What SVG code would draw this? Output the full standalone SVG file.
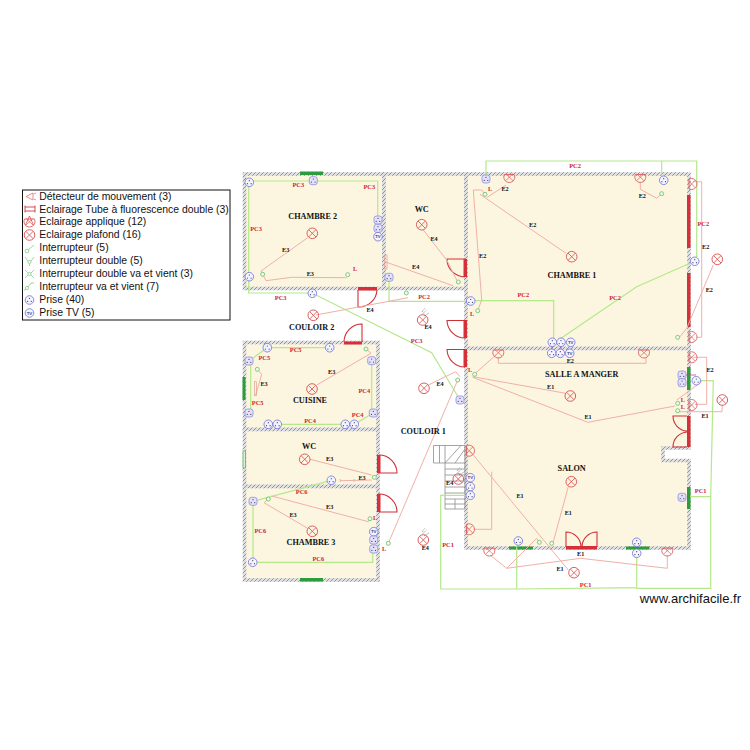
<svg xmlns="http://www.w3.org/2000/svg" width="750" height="750" viewBox="0 0 750 750">
<style>
.room{fill:#fcf6e1;stroke:url(#hatch);stroke-width:3.6}
.rn{font:bold 8.2px "Liberation Serif",serif;fill:#111;text-anchor:middle}
.pc{font:bold 6.4px "Liberation Serif",serif;fill:#d01c30;text-anchor:middle}
.e{font:bold 6.2px "Liberation Serif",serif;fill:#111;text-anchor:middle}
.l{font:bold 6.2px "Liberation Serif",serif;fill:#d01c30;text-anchor:middle}
.g{fill:none;stroke:#b4e88a;stroke-width:1.2}
.r{fill:none;stroke:#f0b0a6;stroke-width:1}
.door{fill:none;stroke:#cf3038;stroke-width:1.1}
.bar{fill:#d5303a}
.win{fill:#2e9b3c}
.leg{font:10.4px "Liberation Sans",Arial,sans-serif;fill:#111}
.st{fill:none;stroke:#8d8d8d;stroke-width:.8}
</style>
<defs>
<pattern id="hatch" width="4" height="4" patternUnits="userSpaceOnUse">
<rect width="4" height="4" fill="#e0e0e0"/>
<path d="M0 4L4 0" stroke="#8a8a8a" stroke-width=".9"/>
</pattern>
<g id="p"><circle r="4.3" fill="#f4f4ff" stroke="#6f6fdc" stroke-width=".8"/><circle cy="-1.6" r=".6" fill="#446"/><circle cx="-1.8" cy="1.4" r=".6" fill="#446"/><circle cx="1.8" cy="1.4" r=".6" fill="#446"/></g>
<g id="ps"><rect x="-4" y="-4" width="8" height="8" rx="2.500" fill="#e4e2fa" stroke="#8c8ce0" stroke-width=".8"/><circle cy="-1.6" r=".6" fill="#446"/><circle cx="-1.8" cy="1.4" r=".6" fill="#446"/><circle cx="1.8" cy="1.4" r=".6" fill="#446"/></g>
<g id="tv"><circle r="4.3" fill="#f4f4ff" stroke="#6f6fdc" stroke-width=".8"/><text y="1.7" text-anchor="middle" style="font:bold 4.4px 'Liberation Sans',sans-serif;fill:#447">TV</text></g>
<g id="lamp"><circle r="5.3" fill="none" stroke="#dc5f5f" stroke-width="1"/><path d="M-3.7-3.7L3.7 3.7M-3.7 3.7L3.7-3.7" stroke="#dc5f5f" stroke-width=".9"/></g>
<g id="app"><path d="M-4.9 0A5.5 5.5 0 1 0 4.9 0Z" fill="none" stroke="#dc5f5f" stroke-width=".9"/><path d="M-3.6-.6L3.8 6.2M3.6-.6L-3.8 6.2" stroke="#dc5f5f" stroke-width=".7"/></g>
<g id="s"><circle r="2" fill="#f4fbe8" stroke="#7fc87f" stroke-width="1"/></g>
<g id="det"><path d="M-1.5 1L2.5-3M0 3L5 0M-2-1L1-5" stroke="#555" stroke-width=".6" stroke-dasharray="1 .7" fill="none"/></g>
</defs>
<rect width="750" height="750" fill="#fff"/>
<g id="legend">
<rect x="22.500" y="190" width="207.500" height="130" fill="#fff" stroke="#111" stroke-width="1"/>
<path d="M33 193L26 196.500L33 200ZM34 194L36 193M34 199L36 200" fill="none" stroke="#e07070" stroke-width=".8"/>
<path d="M25 207H35M25 211H35M25 205.500V212.500M35 205.500V212.500" fill="none" stroke="#d0383c" stroke-width=".9"/>
<use href="#app" x="29.500" y="219"/>
<path d="M25.500 225L29.500 216L33.500 225" fill="none" stroke="#d0383c" stroke-width=".7"/>
<use href="#lamp" x="29.500" y="235"/>
<circle cx="27" cy="251" r="1.900" fill="none" stroke="#86cc86" stroke-width=".8"/><path d="M28 250L34 245" stroke="#86cc86" stroke-width=".8"/>
<circle cx="29.500" cy="262" r="1.600" fill="none" stroke="#86cc86" stroke-width=".8"/><path d="M28 261L25 257M31 261L34 257M29.500 264V266" stroke="#86cc86" stroke-width=".8"/>
<circle cx="29.500" cy="274" r="1.600" fill="none" stroke="#86cc86" stroke-width=".8"/><path d="M28 273L25 270M31 273L34 270M28 275L25 278M31 275L34 278" stroke="#86cc86" stroke-width=".8"/>
<circle cx="27" cy="288" r="1.600" fill="none" stroke="#86cc86" stroke-width=".8"/><path d="M28 287L31 283H34M26 289.500L24 290" fill="none" stroke="#86cc86" stroke-width=".8"/>
<use href="#p" x="29.500" y="300"/>
<use href="#tv" x="29.500" y="313"/>
<text class="leg" x="39.300" y="199.500">Détecteur de mouvement (3)</text>
<text class="leg" x="39.300" y="212.500">Eclairage Tube à fluorescence double (3)</text>
<text class="leg" x="39.300" y="225">Eclairage applique (12)</text>
<text class="leg" x="39.300" y="238">Eclairage plafond (16)</text>
<text class="leg" x="39.300" y="251">Interrupteur (5)</text>
<text class="leg" x="39.300" y="264">Interrupteur double (5)</text>
<text class="leg" x="39.300" y="277">Interrupteur double va et vient (3)</text>
<text class="leg" x="39.300" y="290">Interrupteur va et vient (7)</text>
<text class="leg" x="39.300" y="303">Prise (40)</text>
<text class="leg" x="39.300" y="316">Prise TV (5)</text>
</g>
<g id="rooms">
<g id="chambre-2"><rect class="room" x="244.500" y="174" width="139.500" height="114.500"/></g>
<g id="wc-1"><rect class="room" x="384" y="174" width="82" height="114.500"/></g>
<g id="chambre-1"><rect class="room" x="466" y="174" width="223" height="174.500"/></g>
<g id="salon"><path class="room" d="M466 348.500H689V448H663V460.500H689V548H466Z"/><path d="M689 449.900V458.600" stroke="#fff" stroke-width="5"/></g>
<g id="cuisine"><rect class="room" x="244.500" y="342.500" width="133.500" height="87"/></g>
<g id="wc-2"><rect class="room" x="244.500" y="429.500" width="133.500" height="57"/></g>
<g id="chambre-3"><rect class="room" x="244.500" y="486.500" width="133.500" height="93.500"/></g>
</g>
<g id="openings">
<rect class="win" x="300" y="171.500" width="23" height="3.500"/>
<rect class="win" x="300" y="578" width="23" height="3.500"/>
<rect class="win" x="242.500" y="377" width="3" height="23"/>
<rect x="243" y="451" width="2.500" height="17" fill="#d8f0d0" stroke="#4caf50" stroke-width=".7"/>
<rect class="bar" x="687" y="195" width="3.500" height="53"/>
<rect class="bar" x="687" y="273" width="3.500" height="54"/>
<rect class="win" x="687" y="367" width="3.500" height="23"/>
<rect class="win" x="687" y="487" width="3.500" height="22"/>
<rect class="win" x="509" y="546.500" width="24" height="3"/>
<rect class="win" x="626" y="546.500" width="23.500" height="3"/>
<rect class="bar" x="358" y="287" width="19" height="3.500"/><path class="door" d="M358 290V307A18 18 0 0 0 377 290"/>
<rect class="bar" x="463.500" y="259" width="3.500" height="18"/><path class="door" d="M465 259H447A18 18 0 0 0 465 277"/>
<rect class="bar" x="344" y="341.500" width="18" height="3"/><path class="door" d="M362 342V324A18 18 0 0 0 344 342"/>
<rect class="bar" x="463.500" y="320" width="3.500" height="18"/><path class="door" d="M465 320.500H447A18 18 0 0 0 465 338"/>
<rect class="bar" x="463.500" y="349" width="3.500" height="18"/><path class="door" d="M465 349.500H447A18 18 0 0 0 465 367"/>
<rect class="bar" x="377" y="455" width="3.500" height="18"/><path class="door" d="M379 473H397A18 18 0 0 0 379 455"/>
<rect class="bar" x="377" y="494" width="3.500" height="18"/><path class="door" d="M379 512H397A18 18 0 0 0 379 494"/>
<rect class="bar" x="687" y="416" width="3.500" height="31"/>
<path class="door" d="M687 416H673A15 15 0 0 0 687 431M687 447H673A15 15 0 0 1 687 432"/>
<rect class="bar" x="566" y="546" width="31" height="3.500"/>
<path class="door" d="M566 547V532A15 15 0 0 1 581 547M597 547V532A15 15 0 0 0 582 547"/>
</g>
<g id="stairs">
<path class="st" d="M433.500 445.500H465V509H445V463H433.500ZM439.500 445.500V463M445 445.500V463M445 463L461 445.500M445 463H465M445 469H465M445 475H465M445 481H465M445 487H465M445 493H465M445 499H465M445 504H465M455 463L465 449M455 499V509"/>
</g>
<g id="connectors">
<path class="g" d="M249.300 181H377.700V220M248.700 182V293H312L431.700 352.700L460 400"/>
<path class="g" d="M389 277V301.300H470.700M470.700 300.700H553.700V342M561 338.300L636.700 286.700L690 263.300M486 175V161H696.700V257M661.700 161V176"/>
<path class="g" d="M249 361L267.300 347.700H329.700M250.700 361V413"/>
<path class="g" d="M268 424.300H354.300L373.300 413M371.700 361V413"/>
<path class="g" d="M331.300 480.300L253 501.300V562.300H372.700V549"/>
<path class="g" d="M470 495.300H440.700V589H516.700V546M516.700 589L636.700 587.700V553M636.700 588.300H710.700V496.700H690M710.700 496.700L713.300 380.700H696.300"/>
<path class="r" d="M307.700 237.700L261 271L266 280.700L291.700 277.300L346.700 277.700"/>
<path class="r" d="M423.300 230L446.700 260L456.700 280M385.700 262L453 285.700M316 315L408 297.700"/>
<path class="r" d="M316.700 385L371 353.300L366 349M255.700 395L261.700 374.300L257.300 369.300M310 459.300L371.700 475M340.300 480.700L371.700 480M340.300 479V482M354 479V482"/>
<path class="r" d="M271.700 496L368.300 521.700L370 518.700M264 502.700L307.700 528.300M264 502.700L268.300 499"/>
<path class="r" d="M428.300 385L455.700 371.700L460 376.700M457.700 380L388.300 543.300"/>
<path class="r" d="M480 194.300L566 253.300M486.700 197.700L506 185M473.300 190H481.700L485 194.300M473.300 190L481.700 300L477.700 310.700M640.300 181.700V189.300L656.700 198.300L661.700 193.700"/>
<path class="r" d="M693.300 181.700H701.700V337.300H696.700M713.300 265L686.700 328.300L680 336.700"/>
<path class="r" d="M498.300 357V363.300H646V357M496 355L473.300 375M693.300 357.300H706.700V404.300H695"/>
<path class="r" d="M472.700 376.700L565.700 393.300M472.700 377.300L588 422.300L675 406M676.700 400L701.700 381.700M680 411.700H722L722.300 405"/>
<path class="r" d="M470 451L568.300 570M491.700 471.700V529.300H473.300M568.300 486.700L553.300 541.700"/>
<path class="r" d="M490 555L506.700 568.300L536.700 538.300L539.300 542.300M506.700 568.300L580.700 558.300L667.300 568.300V555"/>
<path d="M552 342V353M561 342V353M378 220V232M470.300 482V495M682 375H696" fill="none" stroke="#c43fa0" stroke-width=".8"/>
<g>
<text class="pc" x="298.300" y="186.500">PC3</text><text class="pc" x="369.300" y="189">PC3</text><text class="pc" x="256" y="230.500">PC3</text><text class="pc" x="280.700" y="300">PC3</text><text class="pc" x="416.700" y="343">PC3</text>
<text class="pc" x="424" y="299.300">PC2</text><text class="pc" x="575" y="168">PC2</text><text class="pc" x="703.300" y="226">PC2</text><text class="pc" x="523.300" y="297">PC2</text><text class="pc" x="615" y="300">PC2</text>
<text class="pc" x="295.700" y="352">PC5</text><text class="pc" x="264.300" y="360">PC5</text><text class="pc" x="257.700" y="405">PC5</text>
<text class="pc" x="364.300" y="393">PC4</text><text class="pc" x="357.700" y="417">PC4</text><text class="pc" x="310" y="423.300">PC4</text>
<text class="pc" x="301.700" y="494">PC6</text><text class="pc" x="260.300" y="533">PC6</text><text class="pc" x="318.300" y="561">PC6</text>
<text class="pc" x="448" y="547.300">PC1</text><text class="pc" x="700.700" y="493.300">PC1</text><text class="pc" x="585.700" y="587.300">PC1</text>
<text class="e" x="285.700" y="252.300">E3</text><text class="e" x="310.300" y="276">E3</text><text class="e" x="331.700" y="374">E3</text><text class="e" x="264" y="386">E3</text><text class="e" x="329.700" y="461.300">E3</text><text class="e" x="362" y="480">E3</text><text class="e" x="329.700" y="509">E3</text><text class="e" x="293" y="517">E3</text>
<text class="e" x="434" y="241">E4</text><text class="e" x="415.700" y="269">E4</text><text class="e" x="370" y="312.300">E4</text><text class="e" x="428" y="329">E4</text><text class="e" x="440" y="386">E4</text><text class="e" x="449.700" y="485">E4</text><text class="e" x="425.300" y="550">E4</text>
<text class="e" x="505" y="191.300">E2</text><text class="e" x="642.300" y="198">E2</text><text class="e" x="532.700" y="227">E2</text><text class="e" x="482.700" y="258">E2</text><text class="e" x="705.700" y="249.300">E2</text><text class="e" x="709.300" y="292">E2</text><text class="e" x="570.300" y="363.300">E2</text><text class="e" x="710" y="372">E2</text>
<text class="e" x="550.700" y="389.300">E1</text><text class="e" x="588" y="419.300">E1</text><text class="e" x="705" y="418.300">E1</text><text class="e" x="520" y="498">E1</text><text class="e" x="568.300" y="515">E1</text><text class="e" x="580.700" y="556.300">E1</text><text class="e" x="560" y="571">E1</text>
<text class="l" x="355" y="271">L</text><text class="l" x="472" y="316">L</text><text class="l" x="470" y="372">L</text><text class="l" x="375" y="520">L</text><text class="l" x="384" y="551">L</text><text class="l" x="490" y="191">L</text><text class="l" x="682.700" y="402">L</text><text class="l" x="682.700" y="408.700">L</text>
</g>
</g>
<g id="devices-chambre-2">
<use href="#p" x="249.300" y="182.300"/><use href="#ps" x="313.300" y="180.700"/><use href="#p" x="249.300" y="276.700"/><use href="#p" x="312.300" y="293.300"/>
<use href="#ps" x="378" y="220"/><use href="#ps" x="378" y="228.300"/><use href="#tv" x="378" y="236.700"/>
<use href="#lamp" x="312.300" y="233.300"/><use href="#s" x="262.700" y="274.300"/><use href="#s" x="347.700" y="274.700"/>
<text class="rn" x="312.700" y="219">CHAMBRE 2</text>
</g>
<g id="devices-wc-1">
<use href="#ps" x="389" y="277.300"/><use href="#lamp" x="421.700" y="224.700"/><use href="#s" x="458.300" y="282"/>
<rect x="384.800" y="255" width="2.200" height="14" fill="none" stroke="#e09a90" stroke-width=".7"/>
<text class="rn" x="421.700" y="212">WC</text>
</g>
<g id="devices-couloir-2">
<use href="#s" x="406.300" y="293"/><use href="#lamp" x="313.300" y="315.300"/><use href="#lamp" x="422.700" y="320"/><use href="#det" x="424" y="313"/>
<text class="rn" x="311.700" y="330">COULOIR 2</text>
</g>
<g id="devices-cuisine">
<use href="#p" x="267.300" y="347.700"/><use href="#p" x="329.700" y="347.700"/><use href="#ps" x="249" y="361"/><use href="#ps" x="249" y="413"/><use href="#ps" x="371.700" y="360.700"/><use href="#ps" x="373.300" y="413"/>
<use href="#p" x="268.300" y="424.300"/><use href="#p" x="277.300" y="424.300"/><use href="#p" x="345.300" y="424.300"/><use href="#p" x="354.300" y="424.300"/>
<use href="#lamp" x="312" y="389"/><use href="#s" x="366" y="349"/><use href="#s" x="257.300" y="369.300"/>
<rect x="254.300" y="381.700" width="2" height="14" fill="none" stroke="#e09a90" stroke-width=".7"/>
<text class="rn" x="310" y="403">CUISINE</text>
</g>
<g id="devices-wc-2">
<use href="#p" x="331.300" y="480.300"/><use href="#lamp" x="304.700" y="459.300"/><use href="#s" x="374.300" y="477.300"/>
<text class="rn" x="309" y="448.700">WC</text>
</g>
<g id="devices-chambre-3">
<use href="#ps" x="253" y="501.300"/><use href="#p" x="252.700" y="562.300"/><use href="#tv" x="373.700" y="531.700"/><use href="#ps" x="373.700" y="540"/><use href="#ps" x="373.700" y="549"/>
<use href="#lamp" x="312.300" y="531.300"/><use href="#s" x="268.300" y="499"/><use href="#s" x="370" y="518.700"/>
<text class="rn" x="311" y="545">CHAMBRE 3</text>
</g>
<g id="devices-couloir-1">
<use href="#ps" x="460" y="400"/><use href="#tv" x="470.300" y="477.700"/><use href="#p" x="470.300" y="486.700"/><use href="#p" x="470.300" y="495.300"/>
<use href="#lamp" x="424" y="388.300"/><use href="#lamp" x="423.300" y="540"/><use href="#det" x="424" y="533"/><use href="#lamp" x="458.300" y="479"/><use href="#det" x="459" y="472"/>
<use href="#s" x="388.300" y="543.300"/><use href="#s" x="457.700" y="380"/>
<text class="rn" x="423.300" y="434">COULOIR 1</text>
</g>
<g id="devices-chambre-1">
<use href="#ps" x="486" y="179"/><use href="#p" x="663.700" y="180.300"/><use href="#p" x="694.700" y="261.300"/><use href="#p" x="470.700" y="301"/>
<use href="#p" x="552.300" y="342.300"/><use href="#p" x="561" y="342.300"/><use href="#tv" x="570.700" y="342.300"/>
<use href="#lamp" x="571.700" y="256.700"/><use href="#lamp" x="717.300" y="259.300"/>
<use href="#app" transform="translate(509.300 174.500)"/><use href="#app" transform="translate(640.300 174.500)"/><use href="#app" transform="translate(689 184) rotate(-90)"/><use href="#app" transform="translate(689 337) rotate(-90)"/>
<use href="#s" x="485" y="194.300"/><use href="#s" x="661.700" y="193.700"/><use href="#s" x="477.700" y="310.700"/><use href="#s" x="677.700" y="337.300"/>
<text class="rn" x="572" y="278">CHAMBRE 1</text>
</g>
<g id="devices-salon">
<use href="#p" x="551.700" y="353.300"/><use href="#p" x="560.300" y="353.300"/><use href="#tv" x="569.700" y="353.300"/>
<use href="#ps" x="682" y="375"/><use href="#ps" x="682" y="382.700"/><use href="#p" x="696.300" y="380.700"/><use href="#ps" x="682" y="497.300"/>
<use href="#p" x="518.300" y="541"/><use href="#p" x="636.700" y="542.300"/><use href="#p" x="636.700" y="553.300"/>
<use href="#lamp" x="570.300" y="396"/><use href="#lamp" x="722.300" y="400"/><use href="#lamp" x="571.300" y="481.700"/><use href="#lamp" x="574" y="572.700"/>
<use href="#app" transform="translate(498.300 350)"/><use href="#app" transform="translate(644 350)"/><use href="#app" transform="translate(689 357.300) rotate(-90)"/><use href="#app" transform="translate(689 405) rotate(-90)"/><use href="#app" transform="translate(466.500 450.700) rotate(-90)"/><use href="#app" transform="translate(466.500 529.300) rotate(-90)"/><use href="#app" transform="translate(489.300 548)"/><use href="#app" transform="translate(667.300 548)"/>
<use href="#s" x="474.700" y="374.300"/><use href="#s" x="677.700" y="403.300"/><use href="#s" x="677.700" y="410.700"/><use href="#s" x="539.300" y="542.300"/><use href="#s" x="551.700" y="543.300"/>
<text class="rn" x="581.700" y="377">SALLE A MANGER</text>
<text class="rn" x="571.700" y="471">SALON</text>
</g>
<text x="741" y="603" text-anchor="end" style="font:13px 'Liberation Sans',Arial,sans-serif;fill:#111">www.archifacile.fr</text>
</svg>
